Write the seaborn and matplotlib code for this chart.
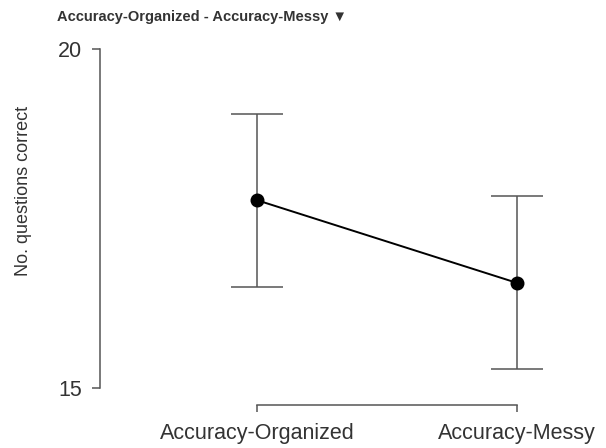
import numpy as np
import pandas as pd
import matplotlib
matplotlib.use("Agg")
import matplotlib.pyplot as plt
import seaborn as sns

# Data
conditions = ["Accuracy-Organized", "Accuracy-Messy"]
means = [17.77, 16.55]
ci_lower = [16.49, 15.28]
ci_upper = [19.04, 17.83]

sns.set_style("white")
plt.rcParams["font.family"] = ["Liberation Sans", "DejaVu Sans"]

TEXT = "#333333"
GRAY = "#555555"

df = pd.DataFrame({"condition": conditions, "mean": means})

fig = plt.figure(figsize=(6.06, 4.48), dpi=100)
ax = fig.add_axes([110 / 606, 60 / 448, 490 / 606, 339 / 448])

sns.pointplot(data=df, x="condition", y="mean", errorbar=None, color="black",
              markers="o", markersize=9, linewidth=1.4, ax=ax, zorder=3)

x = np.arange(len(conditions))
yerr = [np.array(means) - np.array(ci_lower), np.array(ci_upper) - np.array(means)]
ax.errorbar(x, means, yerr=yerr, fmt="none", ecolor=GRAY, elinewidth=1.1,
            capsize=18.5, capthick=1.1, zorder=2)

ax.set_xlim(-(257 - 110) / 260, 1 + (600 - 517) / 260)
ax.set_ylim(15, 20)
ax.set_yticks([15, 20])
ax.set_xticks(x)
ax.set_xticklabels(conditions)

sns.despine(ax=ax, top=True, right=True)
ax.spines["left"].set_position(("outward", 7))
ax.spines["bottom"].set_position(("outward", 12))
ax.spines["left"].set_bounds(15, 20)
ax.spines["bottom"].set_bounds(0, 1)
for s in ["left", "bottom"]:
    ax.spines[s].set_color(GRAY)
    ax.spines[s].set_linewidth(1.1)

ax.tick_params(axis="both", which="major", direction="out", length=6,
               width=1.1, color=GRAY, labelsize=15.5, labelcolor=TEXT, pad=7,
               bottom=True, left=True)
ax.tick_params(axis="x", length=5, pad=8)

ax.set_xlabel("")
ax.set_ylabel("No. questions correct", fontsize=13, color=TEXT)
ax.yaxis.set_label_coords(-0.159, 0.581)

fig.text(57 / 606, 1 - 17 / 448, "Accuracy-Organized - Accuracy-Messy \u25bc",
         fontsize=10.5, fontweight="bold", color=TEXT, va="center", ha="left",
         family=["Liberation Sans", "DejaVu Sans"])

plt.savefig("out.png", dpi=100)
plt.close()
